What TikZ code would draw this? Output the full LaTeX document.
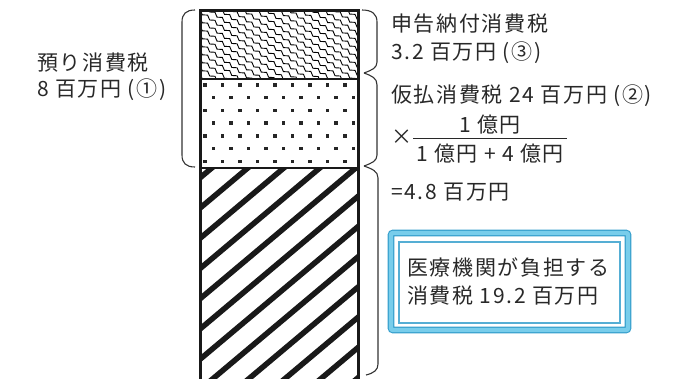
\documentclass[tikz,border=0pt]{standalone}
\usepackage{fontspec}
\setmainfont{Noto Sans CJK JP}[LetterSpace=8]
\usetikzlibrary{decorations.pathmorphing}
\definecolor{txt}{RGB}{40,40,40}
\definecolor{boxlight}{RGB}{120,205,235}
\definecolor{boxdark}{RGB}{55,160,205}
\tikzset{
  lbl/.style={anchor=west, inner sep=0pt, text=txt, font=\fontsize{21}{28}\selectfont},
  brk/.style={draw=black!80, line width=1.1pt},
  wave/.style={draw=black, line width=0.9pt, decorate, decoration={snake, segment length=9pt, amplitude=1.4pt}},
  stripe/.style={draw=black!90, line width=5.5pt},
}
\begin{document}
\begin{tikzpicture}[x=1pt,y=-1pt]
\useasboundingbox (0,0) rectangle (693,378);
% column patterns
\begin{scope}
  \clip (200,10) rectangle (358,79);
  \foreach \i in {-20,...,9} {
    \draw[wave] (175,{10+8*\i}) -- ++(35:260);
  }
\end{scope}
\begin{scope}
  \foreach \j in {0,...,6} {
    \pgfmathsetmacro{\off}{mod(\j,2)==0 ? 205 : 213.5}
    \foreach \m in {0,...,8} {
      \fill[black!85] ({\off+17.5*\m-1.7},{85+12.7*\j-1.7}) rectangle ++(3.4,3.4);
    }
  }
\end{scope}
\begin{scope}
  \clip (200,168) rectangle (358,390);
  \foreach \k in {0,...,12} {
    \draw[stripe] ({212+36*\k-280},{168+235}) -- ({212+36*\k+20},{168-17});
  }
\end{scope}
% column outline and dividers
\draw[line width=3pt, black!90] (200,395) -- (200,10) -- (358,10) -- (358,395);
\draw[line width=2.4pt, black!90] (200,79) -- (358,79);
\draw[line width=2.4pt, black!90] (200,168) -- (358,168);
% left bracket
\draw[brk] (195,10) .. controls (186,10) and (182,14) .. (182,22) -- (182,155) .. controls (182,163) and (186,167) .. (195,167);
% right brackets
\draw[brk] (362,10) .. controls (372,10) and (377,14) .. (377,22) -- (377,62) .. controls (377,68) and (372,70) .. (364,73);
\draw[brk] (364,73) .. controls (372,76) and (377,78) .. (377,85) -- (377,155) .. controls (377,161) and (372,163) .. (364,166);
\draw[brk] (364,166) .. controls (372,169) and (378,171) .. (378,178) -- (378,364) .. controls (378,370) and (374,373) .. (366,375);
% left label
\node[lbl] (l1) at (37,63) {預り消費税};
\node[lbl] (l2) at (37,90) {8 百万円 (①)};
% right labels
\node[lbl] (r1) at (391,24) {申告納付消費税};
\node[lbl] (r2) at (391,53) {3.2 百万円 (③)};
\node[lbl] (r3) at (391,96) {仮払消費税 24 百万円 (②)};
\node[lbl] (times) at (391,137) {×};
\node[lbl, anchor=center] (num) at (490,125) {1 億円};
\node[lbl, anchor=center, inner xsep=1pt] (den) at (490,154) {1 億円 + 4 億円};
\draw[txt, line width=1pt] (413,138) -- (567,138);
\node[lbl] (r4) at (391,192) {=4.8 百万円};
% blue frame
\draw[draw=boxdark, line width=1.1pt, double=boxlight, double distance=4.4pt, rounded corners=2pt] (391,233) rectangle (628,330);
\draw[boxdark!85, line width=1.8pt] (399,242) rectangle (620,323);
\node[lbl, anchor=north west, align=left] (box) at (407,258) {医療機関が負担する\\消費税 19.2 百万円};
\end{tikzpicture}
\end{document}
